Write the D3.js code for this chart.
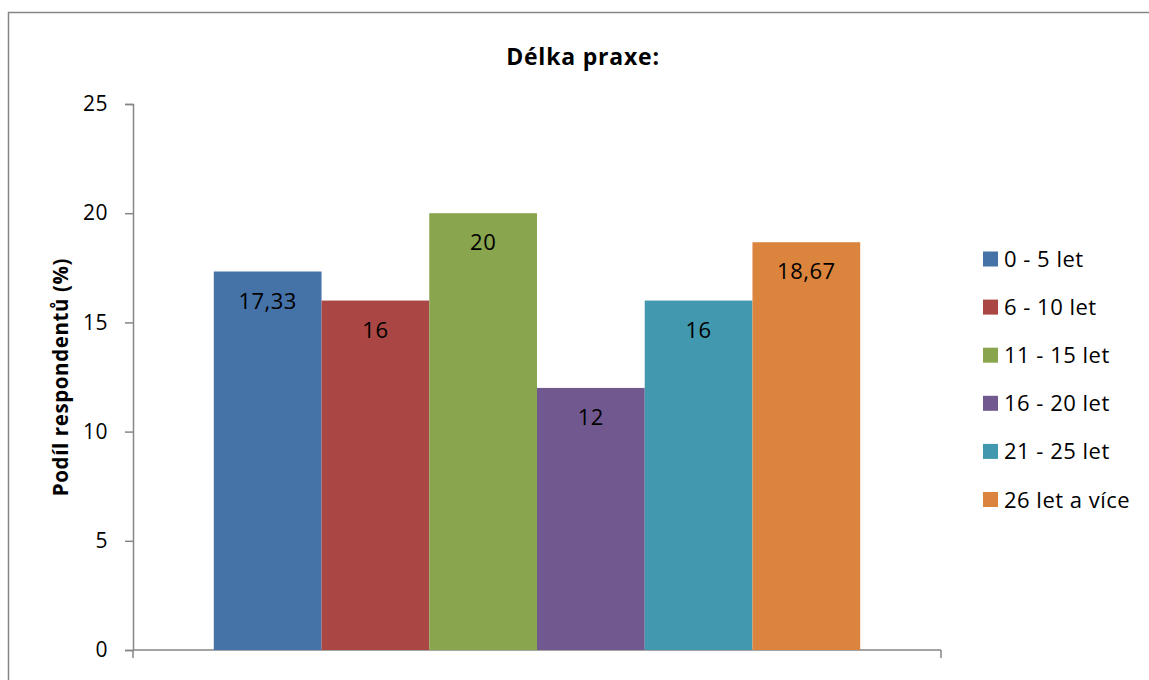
<!DOCTYPE html>
<html>
<head>
<meta charset="utf-8">
<script src="https://cdn.jsdelivr.net/npm/d3@7"></script>
<style>
  body { margin: 0; background: #fff; overflow: hidden; }
  svg { display: block; }
  text { font-family: "Open Sans", sans-serif; }
</style>
</head>
<body>
<svg id="chart" width="1149" height="680"></svg>
<script>
// data
let categories = ["0 - 5 let", "6 - 10 let", "11 - 15 let", "16 - 20 let", "21 - 25 let", "26 let a více"]
let values = [17.33, 16, 20, 12, 16, 18.67]
let colorList = ["#4572A7", "#AA4643", "#89A54E", "#71588F", "#4198AF", "#DB843D"]
let yTickValues = [0, 5, 10, 15, 20, 25]

let svg = d3.select("#chart")

// frame (only top and left edges are visible)
svg.append("path")
    .attr("d", "M8.5,690 L8.5,12.5 L1160,12.5")
    .attr("fill", "none").attr("stroke", "#868686").attr("stroke-width", 1.5)

let plotLeft = 133, plotRight = 941, plotTop = 104, plotBottom = 650

let x = d3.scaleBand()
    .domain(categories)
    .range([plotLeft + 80.8, plotRight - 80.8])
    .padding(0)
let y = d3.scaleLinear()
    .domain([0, 25])
    .range([plotBottom, plotTop])

//y axis
let gy = svg.append("g").attr("transform", "translate(" + plotLeft + ",0)")
    .call(d3.axisLeft(y).tickValues(yTickValues).tickSize(8).tickPadding(17))
gy.select(".domain").attr("stroke", "#868686").attr("stroke-width", 1.5)
gy.selectAll(".tick line").attr("stroke", "#868686").attr("stroke-width", 1.5)
gy.selectAll(".tick text").attr("font-size", "21px").attr("fill", "#000")
    .style("font-family", "'Open Sans', sans-serif")
    .attr("letter-spacing", "0.5px")

// x axis line with end ticks
let gx = svg.append("g").attr("transform", "translate(0," + plotBottom + ")")
gx.append("line").attr("x1", plotLeft).attr("x2", plotRight).attr("y1", 0).attr("y2", 0)
    .attr("stroke", "#868686").attr("stroke-width", 1.5)
;[plotLeft, plotRight].forEach(function(px) {
    gx.append("line").attr("x1", px).attr("x2", px).attr("y1", 0).attr("y2", 8)
        .attr("stroke", "#868686").attr("stroke-width", 1.5)
})

// bars
svg.append("g").selectAll("rect")
    .data(values)
    .join("rect")
    .attr("x", (d, i) => x(categories[i]))
    .attr("y", d => y(d))
    .attr("width", x.bandwidth())
    .attr("height", d => plotBottom - y(d))
    .attr("fill", (d, i) => colorList[i])

// value labels
svg.append("g").selectAll("text")
    .data(values)
    .join("text")
    .attr("x", (d, i) => x(categories[i]) + x.bandwidth() / 2)
    .attr("y", d => y(d) + 37)
    .attr("text-anchor", "middle")
    .attr("font-size", "22px")
    .attr("letter-spacing", "0.5px")
    .attr("fill", "#000")
    .text(d => String(d).replace(".", ","))

// title
svg.append("text")
    .attr("x", 583).attr("y", 65)
    .attr("text-anchor", "middle")
    .attr("font-size", "23px").attr("font-weight", "bold")
    .attr("letter-spacing", "0.8px")
    .text("Délka praxe:")

// y axis title
svg.append("text")
    .attr("transform", "translate(68," + (plotTop + plotBottom) / 2 + ") rotate(-90)")
    .attr("text-anchor", "middle")
    .attr("font-size", "20.5px").attr("font-weight", "bold")
    .attr("letter-spacing", "0.6px")
    .text("Podíl respondentů (%)")

// legend
let legend = svg.append("g").selectAll("g")
    .data(categories)
    .join("g")
    .attr("transform", (d, i) => "translate(983," + (259 + i * 48.1) + ")")
legend.append("rect")
    .attr("x", 0).attr("y", -7.5)
    .attr("width", 15).attr("height", 15)
    .attr("fill", (d, i) => colorList[i])
legend.append("text")
    .attr("x", 21).attr("y", 8)
    .attr("font-size", "22px")
    .attr("letter-spacing", "0.5px")
    .attr("fill", "#000")
    .text(d => d)
</script>
</body>
</html>
